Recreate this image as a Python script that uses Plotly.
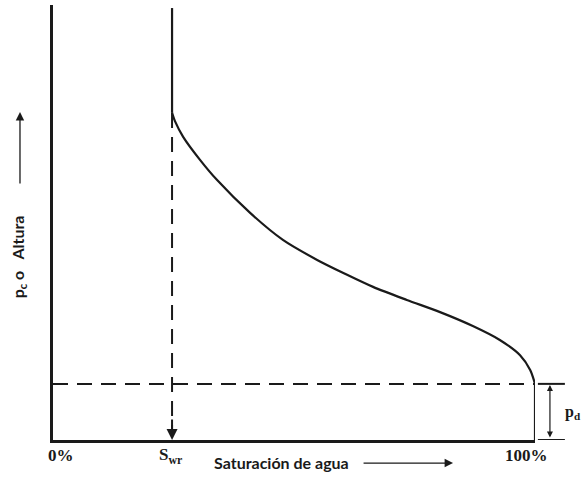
import plotly.graph_objects as go

# Curve: water saturation (%) vs capillary pressure / height (relative units)
sat = [24.7, 24.7, 25.3, 27.0, 30.5, 34.0, 40.9, 47.7, 54.8, 60.6, 66.4, 73.4, 80.3, 87.1, 92.7, 96.9, 99.0, 100.0, 100.0]
pc = [99.3, 75.2, 73.3, 69.7, 64.4, 59.8, 52.2, 46.0, 41.4, 38.2, 35.2, 32.2, 29.4, 26.2, 23.0, 19.5, 16.1, 12.9, 0.0]

swr = 24.7        # irreducible water saturation
pd = 12.9         # displacement pressure
x_labels = ["0%", "S<sub>wr</sub>", "100%"]
x_label_pos = [0.017, 0.245, 0.983]

ink = "#1a1a1a"

fig = go.Figure()
# top vertical part
fig.add_trace(go.Scatter(x=sat[:2], y=pc[:2], mode="lines",
                         line=dict(color=ink, width=2.2), showlegend=False, hoverinfo="skip"))
# curved part
fig.add_trace(go.Scatter(x=sat[1:-1], y=pc[1:-1], mode="lines",
                         line=dict(color=ink, width=2.2, shape="spline", smoothing=0.8),
                         showlegend=False, hoverinfo="skip"))
# bottom vertical part
fig.add_trace(go.Scatter(x=sat[-2:], y=pc[-2:], mode="lines",
                         line=dict(color=ink, width=2.2), showlegend=False, hoverinfo="skip"))

# dashed horizontal line at pd
fig.add_shape(type="line", xref="x", yref="y", x0=0, x1=100, y0=pd, y1=pd,
              line=dict(color=ink, width=2, dash="15px,9px"))
# dashed vertical line at Swr
fig.add_shape(type="line", xref="x", yref="y", x0=swr, x1=swr, y0=pc[1], y1=1.5,
              line=dict(color=ink, width=2, dash="15px,9px"))
# small tick lines at right
for yy in [pd, 0]:
    fig.add_shape(type="line", xref="paper", yref="y", x0=1.006, x1=1.062, y0=yy, y1=yy,
                  line=dict(color=ink, width=2))

ann = []
# arrow head on dashed vertical
ann.append(dict(x=swr, y=0, xref="x", yref="y", ax=0, ay=-22, showarrow=True,
                arrowhead=2, arrowsize=1.1, arrowwidth=2, arrowcolor=ink, text=""))
# pd double arrow
ann.append(dict(x=1.031, y=pd, xref="paper", yref="y", ax=0, ay=56, showarrow=True,
                arrowhead=2, startarrowhead=2, arrowside="end+start", arrowsize=1,
                arrowwidth=1.2, arrowcolor=ink, text="", standoff=1, startstandoff=1))
ann.append(dict(x=1.079, y=0.064, xref="paper", yref="paper", showarrow=False,
                xanchor="center", yanchor="middle",
                text="<b>p<sub>d</sub></b>", font=dict(family="Liberation Serif", size=16, color=ink)))
# x labels
for t, xp in zip(x_labels, x_label_pos):
    ann.append(dict(x=xp, y=-0.036, xref="paper", yref="paper", showarrow=False, text="<b>" + t + "</b>",
                    xanchor="center", yanchor="middle",
                    font=dict(family="Liberation Serif", size=17, color=ink)))
ann.append(dict(x=0.33, y=-0.052, xref="paper", yref="paper", showarrow=False,
                xanchor="left", yanchor="middle",
                text="<b>Saturación de agua</b>", font=dict(family="Lato", size=16, color=ink)))
ann.append(dict(x=0.830, y=-0.053, xref="paper", yref="paper", ax=-91, ay=0, showarrow=True,
                arrowhead=2, arrowsize=1.3, arrowwidth=1.3, arrowcolor=ink, text=""))
# y label
ann.append(dict(x=-0.0726, y=0.42, xref="paper", yref="paper", showarrow=False, textangle=-90,
                xanchor="center", yanchor="middle",
                text="<b>p<sub>c</sub> o&nbsp;&nbsp; Altura</b>", font=dict(family="Lato", size=16, color=ink)))
ann.append(dict(x=-0.0685, y=0.754, xref="paper", yref="paper", ax=0, ay=73, showarrow=True,
                arrowhead=2, arrowsize=1.3, arrowwidth=1.3, arrowcolor=ink, text=""))

fig.update_layout(
    width=587, height=495,
    margin=dict(l=53, r=52, t=5, b=55),
    paper_bgcolor="white", plot_bgcolor="white",
    annotations=ann,
    xaxis=dict(range=[0, 100], showgrid=False, zeroline=False, showticklabels=False,
               ticks="", showline=True, linecolor=ink, linewidth=3),
    yaxis=dict(range=[0, 100], showgrid=False, zeroline=False, showticklabels=False,
               ticks="", showline=True, linecolor=ink, linewidth=3),
)

fig.write_html("out.html")
